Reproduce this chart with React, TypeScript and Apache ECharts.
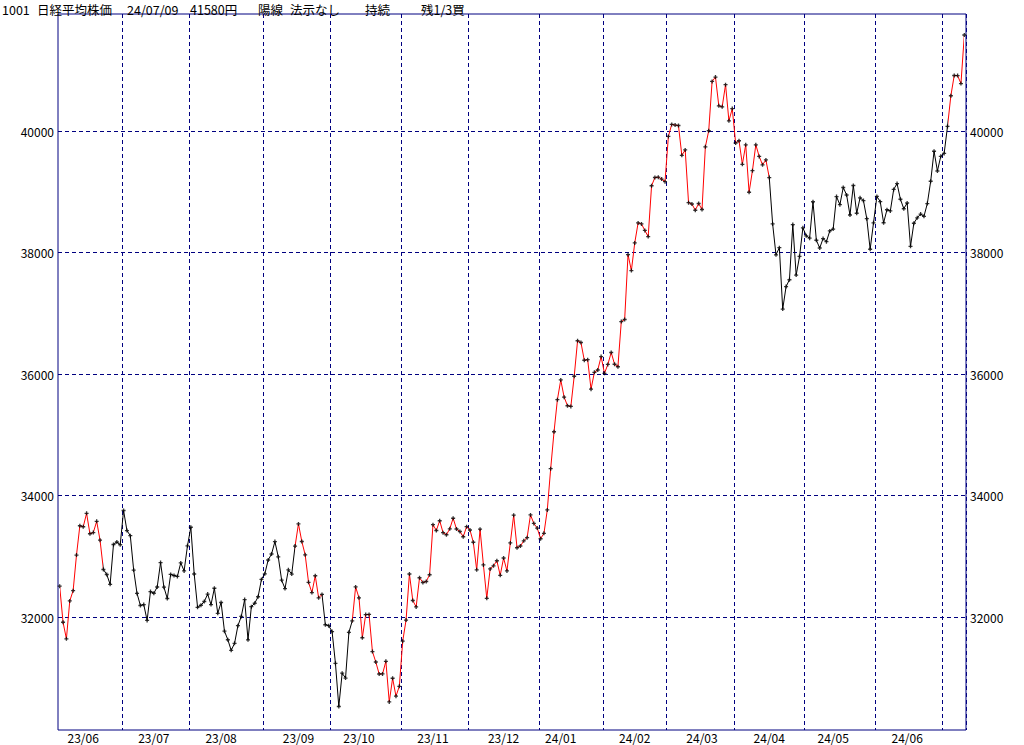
import React, { useEffect, useRef } from "react";
import * as echarts from "echarts";

// Month labels (yy/mm) and the trading days of each month
const MONTHS = ["23/06", "23/07", "23/08", "23/09", "23/10", "23/11", "23/12", "24/01", "24/02", "24/03", "24/04", "24/05", "24/06", "24/07"];
const TRADING_DAYS = [
  [6, 7, 8, 9, 12, 13, 14, 15, 16, 19, 20, 21, 22, 23, 26, 27, 28, 29, 30],
  [3, 4, 5, 6, 7, 10, 11, 12, 13, 14, 18, 19, 20, 21, 24, 25, 26, 27, 28, 31],
  [1, 2, 3, 4, 7, 8, 9, 10, 14, 15, 16, 17, 18, 21, 22, 23, 24, 25, 28, 29, 30, 31],
  [1, 4, 5, 6, 7, 8, 11, 12, 13, 14, 15, 19, 20, 21, 22, 25, 26, 27, 28, 29],
  [2, 3, 4, 5, 6, 10, 11, 12, 13, 16, 17, 18, 19, 20, 23, 24, 25, 26, 27, 30, 31],
  [1, 2, 6, 7, 8, 9, 10, 13, 14, 15, 16, 17, 20, 21, 22, 24, 27, 28, 29, 30],
  [1, 4, 5, 6, 7, 8, 11, 12, 13, 14, 15, 18, 19, 20, 21, 22, 25, 26, 27, 28, 29],
  [4, 5, 9, 10, 11, 12, 15, 16, 17, 18, 19, 22, 23, 24, 25, 26, 29, 30, 31],
  [1, 2, 5, 6, 7, 8, 9, 13, 14, 15, 16, 19, 20, 21, 22, 26, 27, 28, 29],
  [1, 4, 5, 6, 7, 8, 11, 12, 13, 14, 15, 18, 19, 21, 22, 25, 26, 27, 28, 29],
  [1, 2, 3, 4, 5, 8, 9, 10, 11, 12, 15, 16, 17, 18, 19, 22, 23, 24, 25, 26, 30],
  [1, 2, 7, 8, 9, 10, 13, 14, 15, 16, 17, 20, 21, 22, 23, 24, 27, 28, 29, 30, 31],
  [3, 4, 5, 6, 7, 10, 11, 12, 13, 14, 17, 18, 19, 20, 21, 24, 25, 26, 27, 28],
  [1, 2, 3, 4, 5, 8, 9],
];

// Daily closes (yen), one array per month
const CLOSE_2306 = [32507, 31914, 31641, 32265, 32434, 33019, 33502, 33485, 33706, 33370, 33389, 33575, 33265, 32782, 32699, 32538, 33194, 33234, 33189];
const CLOSE_2307 = [33753, 33423, 33339, 32773, 32388, 32190, 32204, 31944, 32419, 32391, 32494, 32896, 32491, 32304, 32701, 32683, 32668, 32891, 32759, 33172];
const CLOSE_2308 = [33477, 32708, 32159, 32193, 32255, 32377, 32204, 32474, 32060, 32239, 31767, 31626, 31451, 31566, 31857, 32010, 32287, 31624, 32170, 32227, 32333, 32619];
const CLOSE_2309 = [32711, 32939, 33037, 33241, 32991, 32607, 32468, 32776, 32707, 33168, 33533, 33243, 33024, 32571, 32402, 32679, 32315, 32372, 31873, 31858];
const CLOSE_2310 = [31760, 31238, 30527, 31075, 30995, 31747, 31937, 32495, 32316, 31659, 32040, 32042, 31431, 31259, 31062, 31063, 31270, 30602, 30992, 30697, 30859];
const CLOSE_2311 = [31602, 31950, 32708, 32272, 32166, 32646, 32568, 32585, 32696, 33520, 33424, 33585, 33388, 33354, 33452, 33626, 33448, 33408, 33321, 33487];
const CLOSE_2312 = [33432, 33231, 32776, 33446, 32858, 32308, 32792, 32843, 32926, 32686, 32971, 32759, 33219, 33676, 33140, 33169, 33254, 33306, 33681, 33540, 33464];
const CLOSE_2401 = [33288, 33377, 33763, 34442, 35050, 35577, 35902, 35619, 35478, 35466, 35963, 36547, 36518, 36226, 36236, 35751, 36027, 36066, 36287];
const CLOSE_2402 = [36011, 36158, 36354, 36161, 36120, 36863, 36897, 37964, 37703, 38158, 38487, 38470, 38364, 38262, 39099, 39234, 39240, 39208, 39166];
const CLOSE_2403 = [39911, 40109, 40098, 40091, 39599, 39689, 38820, 38798, 38696, 38807, 38708, 39740, 40004, 40816, 40888, 40414, 40398, 40763, 40168, 40369];
const CLOSE_2404 = [39803, 39839, 39452, 39773, 38992, 39347, 39773, 39582, 39443, 39524, 39233, 38471, 37962, 38080, 37068, 37439, 37552, 38460, 37628, 37935, 38406];
const CLOSE_2405 = [38274, 38236, 38835, 38202, 38074, 38229, 38179, 38356, 38386, 38920, 38787, 39070, 38947, 38617, 39103, 38646, 38900, 38855, 38557, 38054, 38488];
const CLOSE_2406 = [38923, 38837, 38490, 38704, 38684, 39038, 39135, 38877, 38720, 38815, 38102, 38482, 38571, 38633, 38596, 38805, 39173, 39667, 39342, 39583];
const CLOSE_2407 = [39631, 40075, 40581, 40914, 40912, 40781, 41580];

// Days whose month label is shown under the axis
const LABEL_DATES = ["23/06/15", "23/07/14", "23/08/15", "23/09/15", "23/10/13", "23/11/15", "23/12/15", "24/01/15", "24/02/15", "24/03/15", "24/04/15", "24/05/15", "24/06/14"];
// Stretches drawn in red (first date, last date)
const RED_RUNS = [
  ["23/06/06", "23/06/23"],
  ["23/09/14", "23/09/27"],
  ["23/10/11", "24/04/15"],
  ["24/07/02", "24/07/09"],
];
const Y_TICKS = [32000, 34000, 36000, 38000, 40000];
const Y_MIN = 30140;
const Y_MAX = 41926;

const TITLE_PARTS = ["1001", "日経平均株価", "24/07/09", "41580円", "陽線", "法示なし", "持続", "残1/3買"];

const FONT = '"Noto Sans CJK JP", "Noto Sans", sans-serif';
const NAVY = "#000080";

export default function App() {
  const ref = useRef<HTMLDivElement>(null);

  useEffect(() => {
    if (!ref.current) return;
    const chart = echarts.init(ref.current, undefined, { renderer: "svg" });

    const categories: string[] = [];
    const monthStarts = new Set<number>();
    MONTHS.forEach((m, k) => {
      TRADING_DAYS[k].forEach((d, j) => {
        if (j === 0 && categories.length > 0) monthStarts.add(categories.length);
        categories.push(`${m}/${String(d).padStart(2, "0")}`);
      });
    });
    const closes = [
      ...CLOSE_2306, ...CLOSE_2307, ...CLOSE_2308, ...CLOSE_2309, ...CLOSE_2310, ...CLOSE_2311, ...CLOSE_2312,
      ...CLOSE_2401, ...CLOSE_2402, ...CLOSE_2403, ...CLOSE_2404, ...CLOSE_2405, ...CLOSE_2406, ...CLOSE_2407,
    ];
    const labelIdx = new Set(LABEL_DATES.map((d) => categories.indexOf(d)));

    const pieces: any[] = [];
    let prevEnd = -1;
    RED_RUNS.forEach(([a, b]) => {
      const ia = categories.indexOf(a);
      const ib = categories.indexOf(b);
      if (ia > 0) {
        if (prevEnd >= 0) pieces.push({ gt: prevEnd, lt: ia, color: "#000000" });
        else pieces.push({ gte: 0, lt: ia, color: "#000000" });
      }
      pieces.push({ gte: ia, lte: ib, color: "#ff0000" });
      prevEnd = ib;
    });
    if (prevEnd < categories.length - 1) pieces.push({ gt: prevEnd, lte: categories.length - 1, color: "#000000" });

    const yAxisCommon = {
      type: "value",
      min: Y_MIN,
      max: Y_MAX,
      axisLine: { show: false },
      axisTick: { show: false, customValues: Y_TICKS },
      axisLabel: {
        customValues: Y_TICKS,
        formatter: (v: number) => String(v),
        color: "#000",
        fontSize: 12,
        fontFamily: FONT,
        margin: 4,
      },
    };

    const titleX = [2, 37, 127, 190, 258, 290, 365, 421];

    const option: any = {
      animation: false,
      backgroundColor: "#ffffff",
      grid: {
        left: 58,
        right: 58,
        top: 14,
        bottom: 15,
        show: true,
        borderColor: NAVY,
        borderWidth: 1,
        outerBoundsMode: "none",
        containLabel: false,
      },
      xAxis: {
        type: "category",
        data: categories,
        boundaryGap: true,
        axisLine: { show: false },
        axisTick: { show: false },
        axisLabel: {
          interval: (i: number) => labelIdx.has(i),
          formatter: (v: string) => v.slice(0, 5),
          color: "#000",
          fontSize: 12,
          lineHeight: 12,
          fontFamily: FONT,
          margin: 1,
        },
        splitLine: {
          show: true,
          interval: (i: number) => monthStarts.has(i),
          lineStyle: { color: NAVY, width: 1, type: [4, 3] },
        },
      },
      yAxis: [
        {
          ...yAxisCommon,
          position: "left",
          splitLine: { show: true, lineStyle: { color: NAVY, width: 1, type: [4, 3] } },
        },
        {
          ...yAxisCommon,
          position: "right",
          splitLine: { show: false },
        },
      ],
      visualMap: {
        type: "piecewise",
        show: false,
        dimension: 0,
        seriesIndex: 0,
        pieces,
      },
      graphic: TITLE_PARTS.map((t, i) => ({
        type: "text",
        x: titleX[i],
        y: 9,
        style: {
          text: t,
          fill: "#000",
          fontSize: 12.5,
          lineHeight: 13,
          fontFamily: FONT,
          verticalAlign: "middle",
        },
      })),
      series: [
        {
          type: "line",
          data: closes,
          showSymbol: false,
          lineStyle: { width: 1 },
          z: 2,
          silent: true,
        },
        {
          type: "scatter",
          data: closes,
          symbol: "path://M1,0H2V1H3V2H2V3H1V2H0V1H1Z",
          symbolSize: 4,
          itemStyle: { color: "#000" },
          z: 3,
          silent: true,
        },
      ],
    };

    chart.setOption(option);
    return () => chart.dispose();
  }, []);

  return (
    <div
      ref={ref}
      style={{ position: "absolute", left: 0, top: 0, width: 1024, height: 745, background: "#fff" }}
    />
  );
}
